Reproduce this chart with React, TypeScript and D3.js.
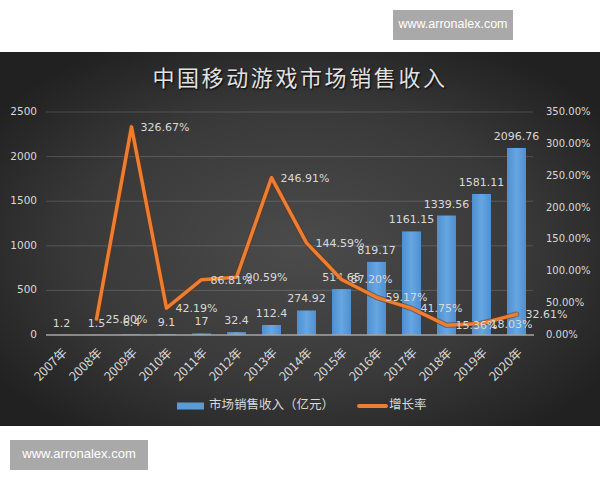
import React from "react";
import * as d3 from "d3";

const years = ["2007年","2008年","2009年","2010年","2011年","2012年","2013年","2014年","2015年","2016年","2017年","2018年","2019年","2020年"];
const revenue = [1.2, 1.5, 6.4, 9.1, 17, 32.4, 112.4, 274.92, 514.65, 819.17, 1161.15, 1339.56, 1581.11, 2096.76];
const revenueLabels = ["1.2","1.5","6.4","9.1","17","32.4","112.4","274.92","514.65","819.17","1161.15","1339.56","1581.11","2096.76"];
const growth: (number | null)[] = [null, 25.0, 326.67, 42.19, 86.81, 90.59, 246.91, 144.59, 87.2, 59.17, 41.75, 15.36, 18.03, 32.61];
const leftTicks = [0, 500, 1000, 1500, 2000, 2500];
const rightTicks = [0, 50, 100, 150, 200, 250, 300, 350];
const title = "中国移动游戏市场销售收入";
const legendLabels = ["市场销售收入（亿元）", "增长率"];
const watermark = "www.arronalex.com";

const W = 600, H = 480;
const NUM = "'DejaVu Sans', sans-serif";
const CJK = "'Noto Sans CJK SC', sans-serif";
const TXT = "#d9d9d9";

export default function App() {
  const x = d3.scaleBand<string>().domain(years).range([44, 534]).paddingInner(0.457).paddingOuter(0.2285);
  const yL = d3.scaleLinear().domain([0, 2500]).range([335, 112]);
  const yR = d3.scaleLinear().domain([0, 350]).range([335, 112]);
  const cx = (y: string) => (x(y) as number) + x.bandwidth() / 2;

  const pts = years.map((y, i) => ({ y, g: growth[i] })).filter(d => d.g !== null) as { y: string; g: number }[];
  const line = d3.line<{ y: string; g: number }>().x(d => cx(d.y)).y(d => yR(d.g));
  const path = line(pts) || "";

  return (
    <svg width={W} height={H} style={{ position: "absolute", left: 0, top: 0, display: "block" }}>
      <defs>
        <radialGradient id="bg" cx="50%" cy="52%" r="62%">
          <stop offset="0%" stopColor="#4b4b4b" />
          <stop offset="60%" stopColor="#393939" />
          <stop offset="100%" stopColor="#212121" />
        </radialGradient>
        <linearGradient id="bar" x1="0" x2="1" y1="0" y2="0">
          <stop offset="0%" stopColor="#4f8fcf" />
          <stop offset="50%" stopColor="#66a6e2" />
          <stop offset="100%" stopColor="#4f8fcf" />
        </linearGradient>
      </defs>
      <rect x={0} y={0} width={W} height={H} fill="#ffffff" />
      <rect x={0} y={52} width={W} height={374} fill="url(#bg)" />

      {/* watermarks */}
      <rect x={393} y={10} width={120} height={30} fill="#a9a9a9" />
      <text x={453} y={25} textAnchor="middle" dominantBaseline="middle" fill="#ffffff" fontFamily="'Liberation Sans', Arial, sans-serif" fontSize={12.5}>{watermark}</text>
      <rect x={10} y={440} width={138} height={30} fill="#a9a9a9" />
      <text x={79} y={455} textAnchor="middle" dominantBaseline="middle" fill="#ffffff" fontFamily="'Liberation Sans', Arial, sans-serif" fontSize={13}>{watermark}</text>

      {/* title */}
      <text x={300} y={80} textAnchor="middle" dominantBaseline="middle" fill="#e2e2e2" fontFamily={CJK} fontSize={22} letterSpacing={2.6}
        style={{ textShadow: "1px 1px 2px #000" }}>{title}</text>

      {/* gridlines */}
      {leftTicks.filter(t => t > 0).map(t => (
        <line key={t} x1={46} x2={533} y1={yL(t)} y2={yL(t)} stroke="#ffffff" strokeOpacity={0.16} strokeWidth={1} />
      ))}

      {/* left axis labels */}
      {leftTicks.map(t => (
        <text key={t} x={37} y={yL(t)} textAnchor="end" dominantBaseline="middle" fill={TXT} fontFamily={NUM} fontSize={10.5}>{t}</text>
      ))}
      {/* right axis labels */}
      {rightTicks.map(t => (
        <text key={t} x={546} y={yR(t)} textAnchor="start" dominantBaseline="middle" fill={TXT} fontFamily={NUM} fontSize={10}>{t.toFixed(2) + "%"}</text>
      ))}

      {/* bars */}
      {years.map((y, i) => (
        <rect key={y} x={x(y)} y={yL(revenue[i])} width={x.bandwidth()} height={335 - yL(revenue[i])} fill="url(#bar)" />
      ))}

      {/* baseline */}
      <line x1={46} x2={534} y1={335} y2={335} stroke="#a6a6a6" strokeWidth={1.5} />

      {/* bar labels */}
      {years.map((y, i) => (
        <text key={y} x={cx(y)} y={yL(revenue[i]) - 8} textAnchor="middle" fill={TXT} fontFamily={NUM} fontSize={11}>{revenueLabels[i]}</text>
      ))}

      {/* growth line */}
      <path d={path} fill="none" stroke="#6a3512" strokeOpacity={0.55} strokeWidth={5.5} strokeLinejoin="round" strokeLinecap="round" />
      <path d={path} fill="none" stroke="#ED7D31" strokeWidth={3.5} strokeLinejoin="round" strokeLinecap="round" />

      {/* growth labels */}
      {pts.map(d => (
        <text key={d.y} x={cx(d.y) + 9} y={yR(d.g) + 1} dominantBaseline="middle" fill={TXT} fontFamily={NUM} fontSize={11}>{d.g.toFixed(2) + "%"}</text>
      ))}

      {/* x labels */}
      {years.map(y => (
        <text key={y} transform={`translate(${cx(y) + 4},${351}) rotate(-45)`} textAnchor="end" dominantBaseline="middle" fill={TXT} fontFamily={CJK} fontSize={12.5}>{y}</text>
      ))}

      {/* legend */}
      <rect x={177} y={402.5} width={27} height={7} fill="#5B9BD5" />
      <text x={209} y={406} dominantBaseline="middle" fill={TXT} fontFamily={CJK} fontSize={12.5}>{legendLabels[0]}</text>
      <line x1={359} x2={386} y1={406} y2={406} stroke="#ED7D31" strokeWidth={4} strokeLinecap="round" />
      <text x={389} y={406} dominantBaseline="middle" fill={TXT} fontFamily={CJK} fontSize={12.5}>{legendLabels[1]}</text>
    </svg>
  );
}
